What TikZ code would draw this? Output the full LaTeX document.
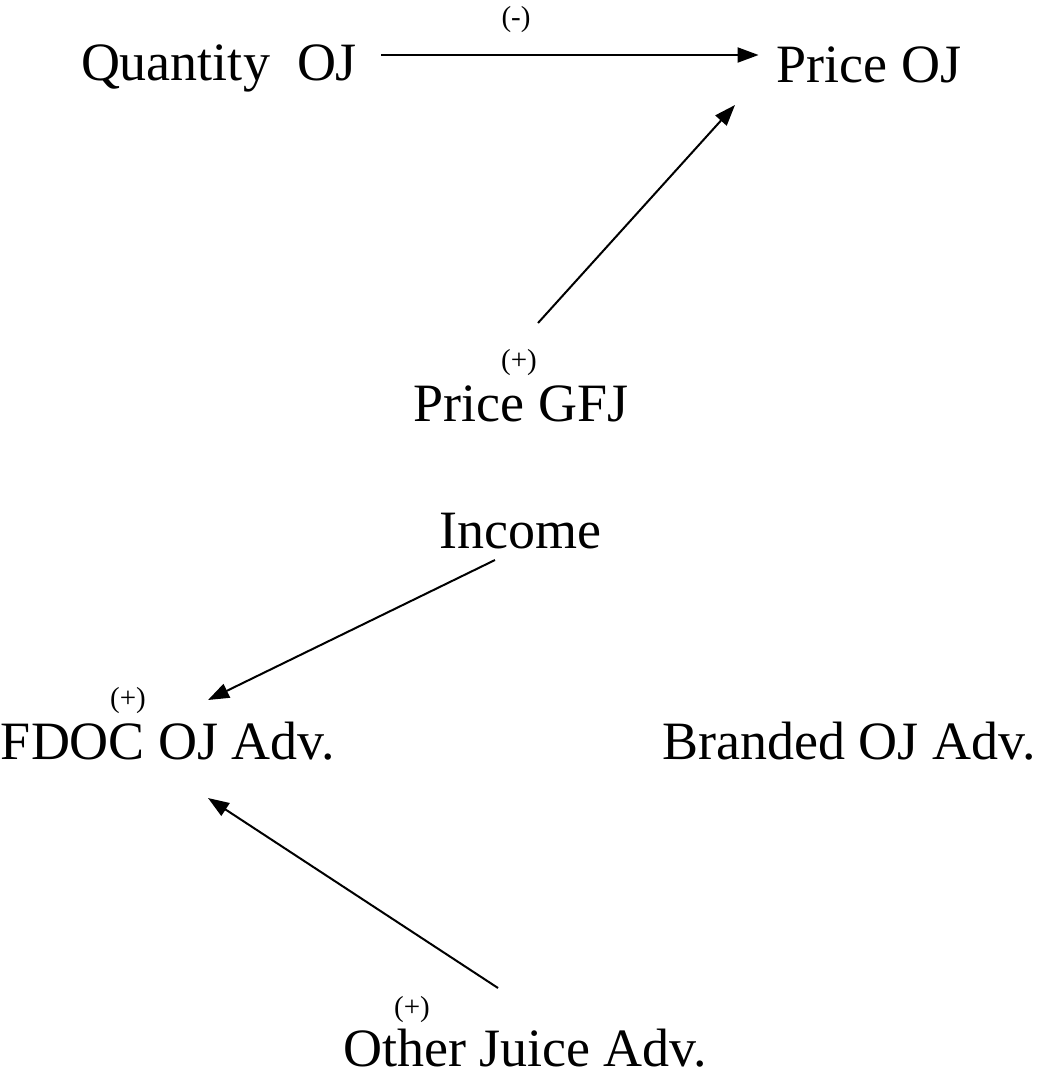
\documentclass[tikz,border=0pt]{standalone}
\usepackage{fontspec}
\setmainfont{Liberation Serif}
\usetikzlibrary{arrows.meta, positioning}

\begin{document}
\begin{tikzpicture}[x=1pt, y=1pt,
		var/.style={font=\fontsize{54}{60}\selectfont, inner sep=0pt, anchor=base},
		sgn/.style={font=\fontsize{29}{34}\selectfont, inner sep=0pt, anchor=base},
		arr/.style={line width=2pt, -{Triangle[length=21pt, width=15pt]}}]
		\useasboundingbox (0,0) rectangle (1040,-1080);

		% Price block
		\node[var] (qoj) at (219,-80) {Quantity~~OJ};
		\node[var] (poj) at (869,-82) {Price OJ};
		\node[sgn] (sminus) at (516,-26) {(-)};
		\node[var] (pgfj) at (521,-421) {Price GFJ};
		\node[sgn] (splus1) at (519,-369) {(+)};
		\draw[arr] ([xshift=24pt, yshift=25pt]qoj.base east) -- ([xshift=-18pt, yshift=27pt]poj.base west);
		\draw[arr] ([xshift=17pt, yshift=98pt]pgfj.base) -- ([xshift=-134pt, yshift=-23pt]poj.base);

		% Advertising block
		\node[var] (inc) at (520,-548) {Income};
		\node[var] (fdoc) at (168,-759) {FDOC OJ Adv.};
		\node[sgn] (splus2) at (128,-707) {(+)};
		\node[var] (boj) at (849,-759) {Branded OJ Adv.};
		\node[var] (ojadv) at (525,-1066) {Other Juice Adv.};
		\node[sgn] (splus3) at (412,-1016) {(+)};
		\draw[arr] ([xshift=-25pt, yshift=-12pt]inc.base) -- ([xshift=40pt, yshift=59pt]fdoc.base);
		\draw[arr] ([xshift=-27pt, yshift=78pt]ojadv.base) -- ([xshift=40pt, yshift=-39pt]fdoc.base);
	\end{tikzpicture}
\end{document}
